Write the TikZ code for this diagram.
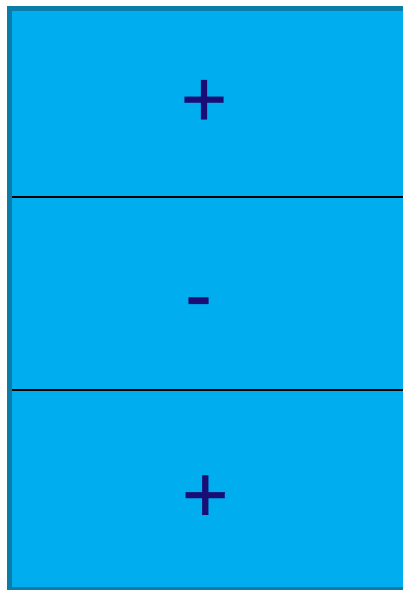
\documentclass[tikz,border=0pt]{standalone}
\usepackage{fontspec}
\setmainfont{Liberation Sans}
\newfontfamily\signfont[FakeBold=0.4]{Liberation Sans}
\definecolor{fillc}{RGB}{0,174,239}
\definecolor{edgec}{RGB}{10,125,168}
\definecolor{signc}{RGB}{26,14,118}
\begin{document}
\begin{tikzpicture}[x=1pt,y=1pt,
  sign/.style={anchor=base,inner sep=0pt,text=signc,font=\signfont\fontsize{80}{80}\selectfont},
  divider/.style={draw=black,line width=1.6pt}]
\useasboundingbox (0,0) rectangle (403,590);
\clip (0,0) rectangle (403,590);
\draw[fill=fillc,draw=edgec,line width=5pt] (9.5,0.5) rectangle (408,581.5);
\coordinate (l1) at (12,393);
\coordinate (r1) at (403,393);
\coordinate (l2) at (12,200);
\coordinate (r2) at (403,200);
\draw[divider] (l1) -- (r1);
\draw[divider] (l2) -- (r2);
\node[sign] (p1) at (204,463.7) {+};
\node[sign] (m1) at (198.5,268) {-};
\node[sign] (p2) at (205.3,68.2) {+};
\end{tikzpicture}
\end{document}
